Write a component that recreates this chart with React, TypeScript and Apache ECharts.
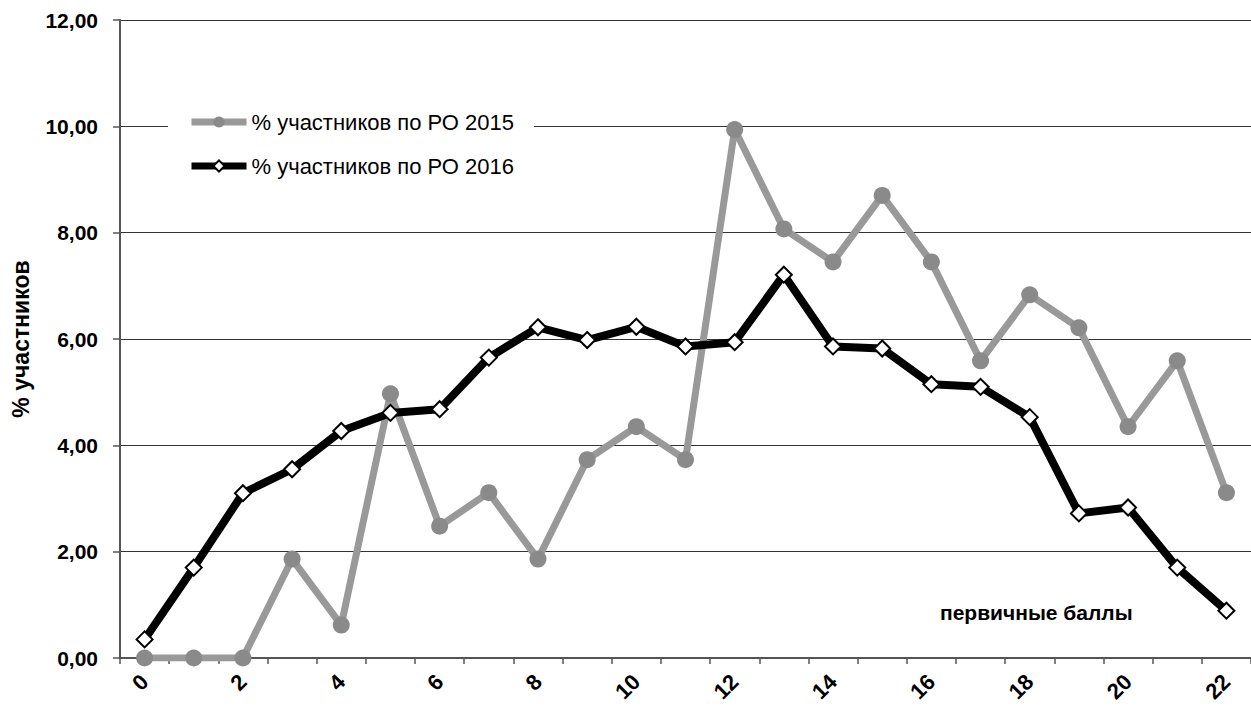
import React, { useEffect, useRef } from "react";
import * as echarts from "echarts";

const categories = ["0","1","2","3","4","5","6","7","8","9","10","11","12","13","14","15","16","17","18","19","20","21","22"];
const series2015 = [0, 0, 0, 1.86, 0.62, 4.97, 2.48, 3.11, 1.86, 3.73, 4.35, 3.73, 9.94, 8.07, 7.45, 8.70, 7.45, 5.59, 6.83, 6.21, 4.35, 5.59, 3.11];
const series2016 = [0.35, 1.70, 3.10, 3.55, 4.27, 4.61, 4.68, 5.65, 6.22, 5.98, 6.23, 5.86, 5.94, 7.21, 5.86, 5.82, 5.15, 5.10, 4.53, 2.72, 2.83, 1.70, 0.89];
const name2015 = "% участников по РО 2015";
const name2016 = "% участников по РО 2016";
const yTitle = "% участников";
const xTitle = "первичные баллы";

const FONT = "'Liberation Sans', Arial, sans-serif";

export default function App() {
  const ref = useRef<HTMLDivElement>(null);
  useEffect(() => {
    if (!ref.current) return;
    const chart = echarts.init(ref.current, undefined, { renderer: "svg" });
    chart.setOption({
      animation: false,
      backgroundColor: "#ffffff",
      textStyle: { fontFamily: FONT },
      grid: { left: 120, top: 20, width: 1141, bottom: 51, containLabel: false },
      legend: {
        orient: "vertical",
        left: 168,
        top: 99,
        padding: [12, 20, 12, 20],
        backgroundColor: "#ffffff",
        itemWidth: 55,
        itemHeight: 14,
        itemGap: 22,
        data: [
          { name: name2015, lineStyle: { width: 7, color: "#999999" } },
          { name: name2016, lineStyle: { width: 7, color: "#000000" } },
        ],
        textStyle: { fontFamily: FONT, fontSize: 22, color: "#000" },
      },
      xAxis: {
        type: "category",
        data: categories,
        boundaryGap: true,
        axisLine: { lineStyle: { color: "#555", width: 2 } },
        axisTick: { show: true, interval: 0, length: 6, lineStyle: { color: "#555", width: 1.5 } },
        axisLabel: {
          interval: 1,
          rotate: 45,
          margin: 20,
          fontFamily: FONT,
          fontWeight: "bold",
          fontSize: 22,
          color: "#000",
        },
        splitLine: { show: false },
      },
      yAxis: {
        type: "value",
        min: 0,
        max: 12,
        interval: 2,
        name: yTitle,
        nameLocation: "middle",
        nameGap: 88,
        nameRotate: 90,
        nameTextStyle: { fontFamily: FONT, fontWeight: "bold", fontSize: 23, color: "#000" },
        axisLine: { show: true, lineStyle: { color: "#555", width: 2 } },
        axisTick: { show: true, length: 7, lineStyle: { color: "#555", width: 1.5 } },
        axisLabel: {
          margin: 22,
          fontFamily: FONT,
          fontWeight: "bold",
          fontSize: 21,
          color: "#000",
          formatter: (v: number) => v.toFixed(2).replace(".", ","),
        },
        splitLine: { show: true, lineStyle: { color: "#333", width: 1 } },
      },
      graphic: [
        {
          type: "text",
          left: 940,
          top: 602,
          style: { text: xTitle, font: `bold 21px ${FONT}`, fill: "#000" },
        },
      ],
      series: [
        {
          name: name2015,
          type: "line",
          data: series2015,
          symbol: "circle",
          symbolSize: 17,
          lineStyle: { color: "#999999", width: 7 },
          itemStyle: { color: "#8a8a8a", borderColor: "#8a8a8a", borderWidth: 0 },
          z: 2,
        },
        {
          name: name2016,
          type: "line",
          data: series2016,
          symbol: "diamond",
          symbolSize: 16,
          lineStyle: { color: "#000000", width: 8 },
          itemStyle: { color: "#ffffff", borderColor: "#000000", borderWidth: 2 },
          z: 3,
        },
      ],
    });
    return () => chart.dispose();
  }, []);
  return (
    <div
      ref={ref}
      style={{ position: "fixed", left: 0, top: 0, width: 1251, height: 709, background: "#fff" }}
    />
  );
}
